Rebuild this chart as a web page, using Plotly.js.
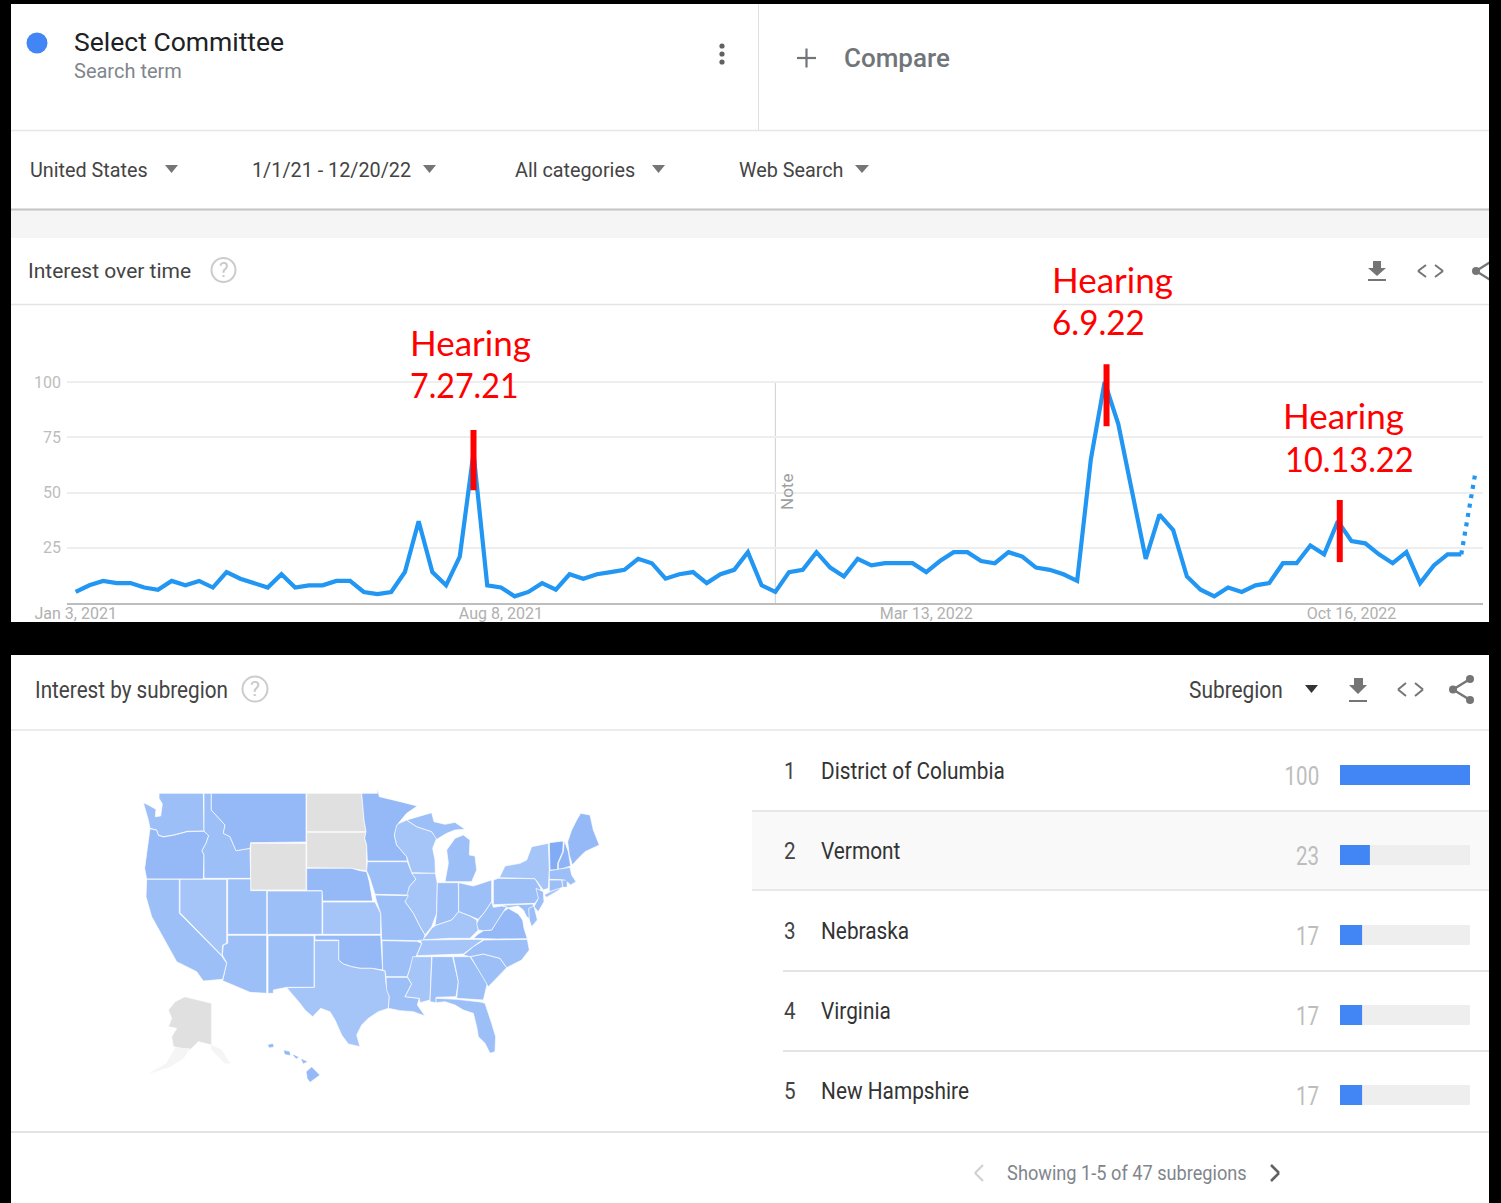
<!DOCTYPE html>
<html><head><meta charset="utf-8">
<script src="https://cdn.plot.ly/plotly-3.0.1.min.js"></script>
<style>html,body{margin:0;padding:0;background:#000}#chart{width:1501px;height:1203px}</style>
</head><body><div id="chart"></div>
<script>
const W=1501,H=1203;
// ---------- interest over time ----------
const weekDates=["2021-01-03","2021-01-10","2021-01-17","2021-01-24","2021-01-31","2021-02-07","2021-02-14","2021-02-21","2021-02-28","2021-03-07","2021-03-14","2021-03-21","2021-03-28","2021-04-04","2021-04-11","2021-04-18","2021-04-25","2021-05-02","2021-05-09","2021-05-16","2021-05-23","2021-05-30","2021-06-06","2021-06-13","2021-06-20","2021-06-27","2021-07-04","2021-07-11","2021-07-18","2021-07-25","2021-08-01","2021-08-08","2021-08-15","2021-08-22","2021-08-29","2021-09-05","2021-09-12","2021-09-19","2021-09-26","2021-10-03","2021-10-10","2021-10-17","2021-10-24","2021-10-31","2021-11-07","2021-11-14","2021-11-21","2021-11-28","2021-12-05","2021-12-12","2021-12-19","2021-12-26","2022-01-02","2022-01-09","2022-01-16","2022-01-23","2022-01-30","2022-02-06","2022-02-13","2022-02-20","2022-02-27","2022-03-06","2022-03-13","2022-03-20","2022-03-27","2022-04-03","2022-04-10","2022-04-17","2022-04-24","2022-05-01","2022-05-08","2022-05-15","2022-05-22","2022-05-29","2022-06-05","2022-06-12","2022-06-19","2022-06-26","2022-07-03","2022-07-10","2022-07-17","2022-07-24","2022-07-31","2022-08-07","2022-08-14","2022-08-21","2022-08-28","2022-09-04","2022-09-11","2022-09-18","2022-09-25","2022-10-02","2022-10-09","2022-10-16","2022-10-23","2022-10-30","2022-11-06","2022-11-13","2022-11-20","2022-11-27","2022-12-04","2022-12-11","2022-12-18"];
const interest=[5,8,10,9,9,7,6,10,8,10,7,14,11,9,7,13,7,8,8,10,10,5,4,5,14,37,14,8,21,68,8,7,3,
5,9,6,13,11,13,14,15,20,18,11,13,14,9,13,15,23,8,5,14,15,23,16,12,20,17,18,18,18,14,19,23,23,19,18,
23,21,16,15,13,10,65,100,81,50,20,40,33,12,6,3,7,5,8,9,18,18,26,22,37,28,27,22,18,23,9,17,22,22,58];
const xTickDates=["2021-01-03","2021-08-08","2022-03-13","2022-10-16"];
const xTickText=["Jan 3, 2021","Aug 8, 2021","Mar 13, 2022","Oct 16, 2022"];
const yTickVals=[25,50,75,100];
const noteDate="2021-12-26";
const hearingDates=["2021-07-25","2022-06-13","2022-10-10"];
const hearingLow=[51,80,18.5];
const hearingHigh=[78.3,108,46.6];
const hearingLabels=[["Hearing","7.27.21"],["Hearing","6.9.22"],["Hearing","10.13.22"]];
// ---------- interest by subregion ----------
const regionNames=["District of Columbia","Vermont","Nebraska","Virginia","New Hampshire"];
const regionValues=[100,23,17,17,17];
const regionTrack=[100,100,100,100,100];
// ---------- map outlines ----------
const cD='#95b9f7',cM='#9dbff8',cL='#a5c5f9',cV='#81acf5',cN='#8fb4f6',cG='#e0e0e0',cF='#f5f5f5';
const WA=[[87,40],[220,40],[222,153],[172,154],[150,160],[130,165],[100,170],[85,165],[80,150],[60,145],[55,120],[40,68],[55,75],[78,88],[76,110],[92,108],[97,72],[87,55]];
const OR=[[60,146],[80,151],[85,166],[100,171],[130,166],[150,161],[172,155],[222,154],[236,167],[228,190],[216,212],[222,225],[220,297],[50,297],[44,265],[50,220]];
const ID=[[222,40],[244,40],[244,90],[268,115],[285,135],[280,160],[300,170],[318,212],[360,205],[362,295],[222,295],[222,225],[216,212],[228,190],[236,167],[222,153]];
const MT=[[244,40],[528,40],[528,186],[362,188],[360,205],[318,212],[300,170],[280,160],[285,135],[268,115],[244,90]];
const ND=[[530,40],[695,40],[698,70],[702,120],[708,155],[530,155]];
const SD=[[530,157],[708,157],[704,175],[710,195],[710,272],[690,270],[665,265],[530,263]];
const WY=[[362,190],[528,190],[528,330],[362,330]];
const NE=[[530,265],[665,265],[690,272],[710,275],[718,305],[728,363],[578,363],[576,332],[530,332]];
const MN=[[695,40],[742,40],[742,25],[748,50],[790,60],[830,70],[862,78],[830,100],[805,130],[793,165],[800,195],[830,230],[832,243],[712,243],[710,195],[704,175],[708,155],[702,120],[698,70]];
const WI=[[808,130],[830,120],[860,140],[905,155],[920,175],[908,205],[915,240],[916,280],[845,278],[835,245],[830,230],[800,195],[793,165],[800,135]];
const MIU=[[830,120],[860,112],[905,98],[912,125],[945,133],[975,127],[1005,148],[975,150],[950,160],[920,178],[905,155],[860,140]];
const MIL=[[945,305],[955,250],[950,210],[975,175],[1000,165],[1020,180],[1018,225],[1035,228],[1040,270],[1025,305]];
const IA=[[712,245],[832,245],[845,278],[858,297],[838,320],[835,345],[735,343],[728,320],[718,290],[710,272]];
const IL=[[845,280],[916,280],[922,310],[920,400],[905,440],[885,465],[870,440],[850,400],[825,365],[838,320],[858,297]];
const IN=[[922,308],[985,308],[986,395],[965,420],[915,437],[920,400]];
const OH=[[986,308],[1030,318],[1085,300],[1085,365],[1065,395],[1045,418],[1020,408],[986,395]];
const KY=[[886,470],[905,445],[915,437],[965,420],[986,395],[1020,408],[1040,420],[1045,450],[1020,475],[960,475],[870,480]];
const TN=[[870,480],[1060,478],[1030,500],[1000,522],[860,527],[875,490]];
const MO=[[735,345],[835,347],[825,365],[850,400],[870,440],[885,465],[880,480],[860,482],[755,480],[752,400],[740,365]];
const KS=[[578,366],[735,366],[752,400],[752,463],[578,463]];
const OK=[[555,466],[752,466],[758,570],[725,565],[690,565],[665,560],[640,552],[626,540],[626,480],[555,480]];
const AR=[[756,482],[860,484],[875,490],[860,525],[840,565],[832,590],[768,590],[765,572],[758,570]];
const TX=[[553,482],[626,482],[626,540],[640,552],[665,560],[690,565],[725,565],[765,573],[768,610],[778,650],[775,685],[745,695],[715,715],[695,735],[680,765],[690,800],[655,792],[635,765],[615,720],[600,695],[572,685],[548,710],[525,690],[510,670],[470,623],[553,622]];
const NM=[[414,467],[552,467],[552,622],[470,622],[430,630],[430,640],[414,640]];
const CO=[[412,333],[576,333],[576,463],[412,463]];
const UT=[[293,297],[362,297],[362,332],[410,332],[410,463],[293,463]];
const AZ=[[293,466],[410,466],[410,640],[360,637],[278,602],[285,570],[290,548],[277,525],[280,495],[293,490]];
const NV=[[150,298],[290,298],[290,490],[278,495],[276,527],[150,398]];
const CA=[[50,298],[148,298],[148,400],[275,528],[290,550],[278,598],[220,603],[200,575],[140,545],[110,490],[65,410],[48,350]];
const LA=[[768,592],[832,592],[845,612],[825,650],[868,655],[862,675],[885,708],[850,695],[810,692],[775,685],[778,650],[770,630]];
const MS=[[848,530],[905,530],[900,660],[870,668],[868,655],[825,650],[845,612],[832,590],[840,565]];
const AL=[[906,530],[968,530],[985,605],[978,650],[918,652],[918,668],[900,665]];
const GA=[[970,530],[1020,530],[1040,560],[1072,610],[1060,660],[980,655],[985,605]];
const FL=[[918,655],[980,658],[1052,666],[1065,670],[1085,730],[1097,770],[1095,815],[1080,820],[1065,790],[1045,770],[1040,740],[1030,700],[1000,690],[975,675],[945,665],[918,668]];
const SC=[[1022,530],[1060,522],[1110,535],[1130,563],[1075,620],[1040,560]];
const NC=[[1000,525],[1030,500],[1062,480],[1192,478],[1198,510],[1175,540],[1130,563],[1110,535],[1060,522],[1020,530]];
const VA=[[1030,475],[1045,462],[1060,452],[1085,450],[1100,425],[1120,395],[1135,385],[1165,402],[1178,420],[1182,445],[1192,476],[1100,477]];
const WV=[[1045,420],[1065,395],[1085,365],[1090,382],[1115,378],[1130,380],[1120,395],[1100,425],[1085,450],[1060,452],[1045,450],[1040,432]];
const PA=[[1090,300],[1105,295],[1215,296],[1232,325],[1225,355],[1215,370],[1090,374]];
const NY=[[1108,293],[1125,258],[1170,250],[1190,240],[1205,200],[1255,190],[1258,270],[1255,325],[1240,330],[1215,296]];
const LI=[[1245,345],[1290,322],[1288,328],[1250,350]];
const NJ=[[1218,325],[1240,335],[1242,365],[1225,395],[1212,380],[1225,355]];
const MD=[[1115,376],[1210,372],[1210,425],[1190,410],[1180,390],[1165,378],[1135,383]];
const DE=[[1196,385],[1212,378],[1222,420],[1205,440],[1198,420]];
const VT=[[1258,188],[1300,183],[1298,215],[1283,250],[1283,270],[1260,270]];
const NH=[[1303,182],[1315,215],[1322,258],[1285,270],[1285,250],[1300,215]];
const ME=[[1313,185],[1325,150],[1340,120],[1352,100],[1380,105],[1390,150],[1408,195],[1385,205],[1365,215],[1345,235],[1327,255],[1318,225]];
const MA=[[1258,272],[1320,262],[1325,285],[1338,305],[1322,315],[1305,300],[1258,298]];
const CT=[[1258,300],[1295,300],[1298,322],[1258,335]];
const RI=[[1298,302],[1310,302],[1310,320],[1300,320]];
const HI1=[[530,875],[545,862],[568,885],[540,905],[533,895]];
const HI2=[[415,795],[428,792],[430,800],[418,802]];
const HI3=[[463,812],[478,815],[480,825],[465,822]];
const HI4=[[490,825],[505,832],[498,835]];
const HI5=[[515,838],[530,845],[520,850]];
const AK=[[165,650],[245,670],[245,795],[205,785],[180,810],[130,800],[125,770],[140,745],[115,740],[125,715],[115,690],[135,665]];
const AK2=[[245,795],[275,810],[300,850],[285,850],[245,810]];
const AK3=[[180,805],[160,835],[120,860],[60,880],[110,850],[135,805]];
const mapShapes=[WA,OR,ID,MT,ND,SD,WY,NE,MN,WI,MIU,MIL,IA,IL,IN,OH,KY,TN,MO,KS,OK,AR,TX,NM,CO,UT,AZ,NV,CA,LA,MS,AL,GA,FL,SC,NC,VA,WV,PA,NY,LI,NJ,MD,DE,VT,NH,ME,MA,CT,RI,HI1,HI2,HI3,HI4,HI5,AK,AK2,AK3];
const mapFills=[cM,cD,cM,cD,cG,cG,cG,cD,cD,cL,cM,cM,cM,cL,cM,cM,cL,cL,cM,cL,cD,cM,cL,cM,cM,cM,cM,cL,cM,cM,cL,cM,cM,cM,cM,cM,cD,cM,cM,cL,cL,cM,cM,cM,cV,cN,cD,cM,cM,cM,cD,cD,cD,cD,cD,cG,cF,cF];
const solidOutline=[LI,RI,HI1,HI2,HI3,HI4,HI5,AK2,AK3];

const FONT='Roboto, sans-serif',HEAR='Lato, sans-serif';
const px=x=>x/W, py=y=>1-y/H;
const rect=(x0,y0,x1,y1,c,layer)=>({type:'rect',xref:'paper',yref:'paper',x0:px(x0),x1:px(x1),y0:py(y0),y1:py(y1),fillcolor:c,line:{width:0},layer:layer||'below'});
const seg=(x0,y0,x1,y1,c,w,layer)=>({type:'line',xref:'paper',yref:'paper',x0:px(x0),x1:px(x1),y0:py(y0),y1:py(y1),line:{color:c,width:w},layer:layer||'below'});
const poly=(pts,c)=>({type:'path',xref:'paper',yref:'paper',path:'M'+pts.map(p=>px(p[0])+','+py(p[1])).join('L')+'Z',fillcolor:c,line:{width:0},layer:'above'});
const circ=(cx,cy,r,fill,stroke,sw)=>({type:'circle',xref:'paper',yref:'paper',x0:px(cx-r),x1:px(cx+r),y0:py(cy+r),y1:py(cy-r),fillcolor:fill,line:{color:stroke||fill,width:sw||0},layer:'above'});
const T=(text,x,y,size,color,family,anchor,extra)=>Object.assign({text,xref:'paper',yref:'paper',x:px(x),y:py(y),xanchor:anchor||'left',yanchor:'middle',showarrow:false,font:Object.assign({family:family||FONT,size,color},(extra&&extra.fontx)||{}),borderpad:0,borderwidth:0},extra&&extra.textangle!==undefined?{textangle:extra.textangle}:{});

const dlIcon=(x0,x1,s0,s1,yTop,yMid,yTip,yBar,c)=>[poly([[s0,yTop],[s1,yTop],[s1,yMid],[x1,yMid],[(x0+x1)/2,yTip],[x0,yMid],[s0,yMid]],c),seg(x0,yBar,x1,yBar,c,2,'above')];
const chev=(x0,x1,y0,y1,dir,c,w)=>{const ym=(y0+y1)/2;return dir<0?[seg(x1,y0,x0,ym,c,w,'above'),seg(x0,ym,x1,y1,c,w,'above')]:[seg(x0,y0,x1,ym,c,w,'above'),seg(x1,ym,x0,y1,c,w,'above')];};

const shapes=[
 rect(11,4,1489,622,'#ffffff'),
 rect(11,655,1489,1203,'#ffffff'),
 rect(11,210,1489,238,'#f5f5f5'),
 seg(11,209.5,1489,209.5,'#c4c4c4',2),
 seg(11,130.5,1489,130.5,'#e6e6e6',1.5),
 seg(758.5,4,758.5,130,'#e0e0e0',1),
 seg(11,304.5,1489,304.5,'#e4e4e4',1.5),
 seg(11,730,1489,730,'#e6e6e6',1.5),
 rect(752,812,1489,890,'#f9f9f9'),
 seg(752,811,1489,811,'#e8e8e8',2),
 seg(752,890,1489,890,'#e8e8e8',2),
 seg(783,971,1489,971,'#e4e4e4',2),
 seg(783,1051,1489,1051,'#e4e4e4',2),
 seg(11,1132,1489,1132,'#e4e4e4',2),
 {type:'line',xref:'x',yref:'y',x0:noteDate,x1:noteDate,y0:0,y1:100,line:{color:'#cfcfcf',width:1},layer:'below'},
 circ(37,43,10.5,'#4285f4'),
 circ(722,46,2.6,'#616161'),circ(722,54,2.6,'#616161'),circ(722,62,2.6,'#616161'),
 seg(797,58,816,58,'#70757a',2.2,'above'),seg(806.5,48.5,806.5,67.5,'#70757a',2.2,'above'),
 poly([[165,165],[178,165],[171.5,173]],'#757575'),
 poly([[423,165],[436,165],[429.5,173]],'#757575'),
 poly([[652,165],[665,165],[658.5,173]],'#757575'),
 poly([[855,165],[869,165],[862,173]],'#757575'),
 circ(223.5,270,12,'rgba(0,0,0,0)','#cccccc',2),
 circ(255,689,12.5,'rgba(0,0,0,0)','#cccccc',2),
 ...dlIcon(1368,1386,1373,1381,261,268,276,280,'#757575'),
 ...chev(1418,1426,265,277,-1,'#757575',2),
 ...chev(1435,1443,265,277,1,'#757575',2),
 seg(1476,271,1492,261,'#757575',2.2,'above'),seg(1476,271,1492,281,'#757575',2.2,'above'),circ(1476,271,4,'#757575'),
 poly([[1305,685],[1318,685],[1311.5,693]],'#333333'),
 ...dlIcon(1349,1367,1354,1363,678,685,694,701,'#757575'),
 ...chev(1398,1406,683,696,-1,'#757575',2),
 ...chev(1415,1423,683,696,1,'#757575',2),
 seg(1453,689.5,1470,679,'#757575',2.5,'above'),seg(1453,689.5,1470,700,'#757575',2.5,'above'),
 circ(1453,689.5,4,'#757575'),circ(1470,679,4,'#757575'),circ(1470,700,4,'#757575'),
 ...chev(975,983,1165,1181,-1,'#d0d0d0',2.2),
 ...chev(1271,1279,1165,1181,1,'#616161',2.5),
 rect(1489,0,1501,1203,'#000000','above'),
];

const annotations=[
 T('Select Committee',74,41.5,26.5,'#202124'),
 T('Search term',74,71,20,'#80868b'),
 T('Compare',844,57.5,26,'#70757a',FONT,'left',{fontx:{weight:500}}),
 T('United States',30,170,19.8,'#444444'),
 T('1/1/21 - 12/20/22',252,170,19.8,'#444444'),
 T('All categories',515,170,19.8,'#444444'),
 T('Web Search',739,170,19.8,'#444444'),
 T('Interest over time',28,271,21,'#444444'),
 T('?',223.5,270,20,'#c8c8c8',FONT,'center'),
 T('Note',787,492,17,'#9e9e9e',FONT,'center',{textangle:-90}),
 T('?',255,689,21,'#c8c8c8',FONT,'center'),
];
// text that is squeezed horizontally in the reference: annotation index -> [scale, anchor]
const squeeze={};
const addSqueezed=(scale,text,x,y,size,color,anchor)=>{annotations.push(T(text,x,y,size,color,FONT,anchor));squeeze[annotations.length-1]=[scale,anchor||'left'];};
addSqueezed(.862,'Interest by subregion',35,690,24,'#444444');
addSqueezed(.87,'Subregion',1189,690,24,'#444444');
addSqueezed(.866,'Showing 1-5 of 47 subregions',1007,1173,21,'#80868b');
const hearingPos=[[410,342,383.5],[1052,279,320.5],[1283,415,457.5]];
const hearingSqueeze=[.92,.95,.93];
hearingLabels.forEach((l,i)=>{const p=hearingPos[i];annotations.push(T(l[0],p[0],p[1],35,'#ff0000',HEAR));annotations.push(T(l[1],p[0]+(i==2?2:0),p[2],35,'#ff0000',HEAR));squeeze[annotations.length-1]=[hearingSqueeze[i],'left'];});
regionNames.forEach((n,i)=>{
 const yT=770.5+80*i,yV=776.5+80*i;
 addSqueezed(.86,String(i+1),784,yT,24,'#444444');
 addSqueezed(.85,n,821,yT,24.5,'#333333');
 addSqueezed(.82,String(regionValues[i]),1319,yV,25,'#bdbdbd','right');
});

const lineColor='#2196f3';
const data=[];
mapShapes.forEach((s,i)=>{const pts=s.concat([s[0]]);const solid=solidOutline.includes(s);data.push({type:'scatter',mode:'lines',xaxis:'x3',yaxis:'y3',x:pts.map(p=>p[0]),y:pts.map(p=>p[1]),fill:'toself',fillcolor:mapFills[i],line:{color:solid?mapFills[i]:'rgba(255,255,255,.75)',width:solid?.5:.9},hoverinfo:'skip',showlegend:false});});
data.push({type:'scatter',mode:'lines',x:weekDates.slice(0,102),y:interest.slice(0,102),line:{color:lineColor,width:4.2,shape:'linear'},hoverinfo:'x+y',showlegend:false});
data.push({type:'scatter',mode:'lines',x:weekDates.slice(101),y:interest.slice(101),line:{color:lineColor,width:4.2,dash:'4px,5.5px'},hoverinfo:'x+y',showlegend:false});
const hx=[],hy=[];hearingDates.forEach((d,i)=>{hx.push(d,d,null);hy.push(hearingLow[i],hearingHigh[i],null);});
data.push({type:'scatter',mode:'lines',x:hx,y:hy,line:{color:'#ff0000',width:6},hoverinfo:'skip',showlegend:false});
data.push({type:'bar',orientation:'h',xaxis:'x2',yaxis:'y2',y:regionNames,x:regionTrack,width:0.25,marker:{color:'#eeeeee',line:{width:0}},hoverinfo:'skip',showlegend:false});
data.push({type:'bar',orientation:'h',xaxis:'x2',yaxis:'y2',y:regionNames,x:regionValues,width:0.25,marker:{color:'#4285f4',line:{width:0}},hoverinfo:'y+x',showlegend:false});

const layout={width:W,height:H,margin:{l:0,r:0,t:0,b:0,pad:0},paper_bgcolor:'#000000',plot_bgcolor:'rgba(0,0,0,0)',barmode:'overlay',showlegend:false,
 font:{family:FONT},
 xaxis:{domain:[67/W,1483/W],type:'date',range:['2020-12-29 14:00','2022-12-22 02:00'],tickmode:'array',tickvals:xTickDates,ticktext:xTickText,tickfont:{family:FONT,size:16,color:'#b0b0b0'},ticklabelstandoff:-5,showgrid:false,zeroline:false,showline:true,linecolor:'#bdbdbd',linewidth:2,ticks:'',anchor:'y'},
 yaxis:{domain:[py(603),py(355.48)],range:[0,112],tickmode:'array',tickvals:yTickVals,tickfont:{family:FONT,size:16,color:'#bdbdbd'},ticklabelstandoff:5,gridcolor:'#eeeeee',gridwidth:1.5,zeroline:false,showline:false,ticks:'',anchor:'x'},
 xaxis2:{domain:[1340/W,1470/W],range:[0,100],visible:false,anchor:'y2',fixedrange:true},
 yaxis2:{domain:[py(1135),py(735)],type:'category',categoryorder:'array',categoryarray:regionNames,range:[4.5,-0.5],visible:false,anchor:'x2',fixedrange:true},
 xaxis3:{domain:[130/W,610/W],range:[0,1440],visible:false,anchor:'y3'},
 yaxis3:{domain:[py(1090),py(780)],range:[930,0],visible:false,anchor:'x3'},
 shapes,annotations};
Plotly.newPlot('chart',data,layout,{displayModeBar:false,responsive:false}).then(()=>{
 document.querySelectorAll('g.annotation').forEach(g=>{
  const s=squeeze[+g.getAttribute('data-index')];if(!s)return;
  const t=g.querySelector('text');if(!t)return;
  const b=t.getBBox();const x0=s[1]==='right'?b.x+b.width:b.x;
  t.setAttribute('transform','translate('+x0+',0) scale('+s[0]+',1) translate('+(-x0)+',0)');
 });
});
</script></body></html>
